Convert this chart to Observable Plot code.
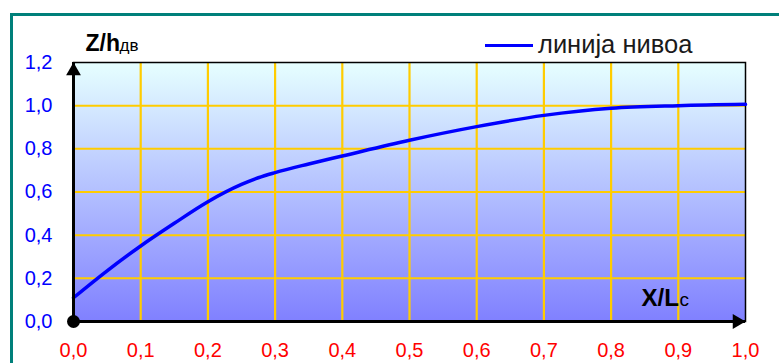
<!DOCTYPE html>
<html>
<head>
<meta charset="utf-8">
<script src="https://cdn.jsdelivr.net/npm/d3@7"></script>
<script src="https://cdn.jsdelivr.net/npm/@observablehq/plot@0.6"></script>
<style>
  body { margin: 0; background: #fff; font-family: "Liberation Sans", Arial, sans-serif; }
  #wrap { position: relative; width: 779px; height: 363px; overflow: hidden; }
  #border { position: absolute; left: 10px; top: 13px; width: 900px; height: 500px;
            border-left: 3px solid #00807A; border-top: 3px solid #00807A; z-index: 5; pointer-events: none; }
  #legend { position: absolute; left: 485px; top: 32px; height: 25px; z-index: 6; white-space: nowrap; }
  #legend .sw { position: absolute; left: 0; top: 11.5px; width: 48px; height: 3px; background: #0000FF; }
  #legend .lb { position: absolute; left: 53px; top: 0; font-size: 25.5px; line-height: 25px; color: #1a1a1a; }
</style>
</head>
<body>
<div id="wrap">
  <div id="border"></div>
  <div id="legend"><span class="sw"></span><span class="lb">линија нивоа</span></div>
</div>
<script>
// Data
const xValues = [0, 0.05, 0.1, 0.15, 0.2, 0.25, 0.275, 0.3, 0.35, 0.4, 0.5, 0.6, 0.7, 0.8, 0.9, 1.0];
const yValues = [0.11, 0.235, 0.35, 0.455, 0.555, 0.635, 0.666, 0.69, 0.73, 0.767, 0.84, 0.903, 0.955, 0.988, 1.0, 1.006];
const xTicks = [0, 0.1, 0.2, 0.3, 0.4, 0.5, 0.6, 0.7, 0.8, 0.9, 1.0];
const yTicks = [0, 0.2, 0.4, 0.6, 0.8, 1.0, 1.2];
const xDomain = [0, 1];
const yDomain = [0, 1.2];
const seriesName = "линија нивоа";
const yTitle = "Z/h", yTitleSub = "дв";
const xTitle = "X/L", xTitleSub = "c";

const data = xValues.map((x, i) => ({x, y: yValues[i]}));
const xGrid = xTicks.filter(t => t > xDomain[0] && t < xDomain[1]);
const yGrid = yTicks.filter(t => t > yDomain[0] && t < yDomain[1]);
const fmt = d => d.toFixed(1).replace(".", ",");
const origin = [{x: xDomain[0], y: yDomain[0]}];
const topEnd = [{x: xDomain[0], y: yDomain[1]}];
const rightEnd = [{x: xDomain[1], y: yDomain[0]}];

const chart = Plot.plot({
  width: 779,
  height: 363,
  marginLeft: 73,
  marginRight: 34,
  marginTop: 62,
  marginBottom: 42,
  style: {fontFamily: "'Liberation Sans', Arial, sans-serif", background: "transparent", overflow: "visible"},
  x: {domain: xDomain, axis: null},
  y: {domain: yDomain, axis: null},
  marks: [
    Plot.frame({fill: "url(#bggrad)"}),
    Plot.ruleX(xGrid, {x: d => d, stroke: "#FFCC00", strokeWidth: 2.2}),
    Plot.ruleY(yGrid, {y: d => d, stroke: "#FFCC00", strokeWidth: 2}),
    Plot.frame({stroke: "#000", strokeWidth: 1.5}),
    Plot.line(data, {x: "x", y: "y", curve: "monotone-x", stroke: "#0000FF", strokeWidth: 3.5}),
    Plot.ruleX([xDomain[0]], {x: d => d, stroke: "#000", strokeWidth: 3}),
    Plot.ruleY([yDomain[0]], {y: d => d, stroke: "#000", strokeWidth: 3}),
    Plot.dot(topEnd, {x: "x", y: "y", symbol: "triangle", r: 5.5, fill: "#000", stroke: null, dy: 8.5}),
    Plot.dot(rightEnd, {x: "x", y: "y", symbol: "triangle", r: 5.5, fill: "#000", stroke: null, rotate: 90, dx: -8.5}),
    Plot.dot(origin, {x: "x", y: "y", r: 6.5, fill: "#000", stroke: null}),
    Plot.text(xTicks, {x: d => d, text: fmt, frameAnchor: "bottom", dy: 29, lineAnchor: "middle",
                       fill: "#FF0000", fontSize: 20}),
    Plot.text(yTicks, {y: d => d, text: fmt, frameAnchor: "left", dx: -21, textAnchor: "end", lineAnchor: "middle",
                       fill: "#0000FF", fontSize: 20}),
    Plot.text([yTitle], {text: d => d, frameAnchor: "top-left", textAnchor: "start", lineAnchor: "bottom",
                         dx: 12, dy: -12, fontSize: 23, fontWeight: "bold", fill: "#000"}),
    Plot.text([yTitleSub], {text: d => d, frameAnchor: "top-left", textAnchor: "start", lineAnchor: "bottom",
                            dx: 46, dy: -12, fontSize: 17, fill: "#000"}),
    Plot.text([xTitle], {text: d => d, frameAnchor: "bottom-right", textAnchor: "start", lineAnchor: "bottom",
                         dx: -104, dy: -16, fontSize: 24, fontWeight: "bold", fill: "#000"}),
    Plot.text([xTitleSub], {text: d => d, frameAnchor: "bottom-right", textAnchor: "start", lineAnchor: "bottom",
                            dx: -66, dy: -16, fontSize: 19, fill: "#000"})
  ]
});

// gradient definition for the plot background
const svg = d3.select(chart.tagName.toLowerCase() === "svg" ? chart : chart.querySelector("svg"));
const grad = svg.insert("defs", ":first-child").append("linearGradient")
  .attr("id", "bggrad").attr("x1", 0).attr("y1", 0).attr("x2", 0).attr("y2", 1);
grad.append("stop").attr("offset", "0%").attr("stop-color", "#E6FFFF");
grad.append("stop").attr("offset", "100%").attr("stop-color", "#8080FF");

chart.style.position = "absolute";
chart.style.left = "0px";
chart.style.top = "0px";
document.getElementById("wrap").appendChild(chart);
</script>
</body>
</html>
